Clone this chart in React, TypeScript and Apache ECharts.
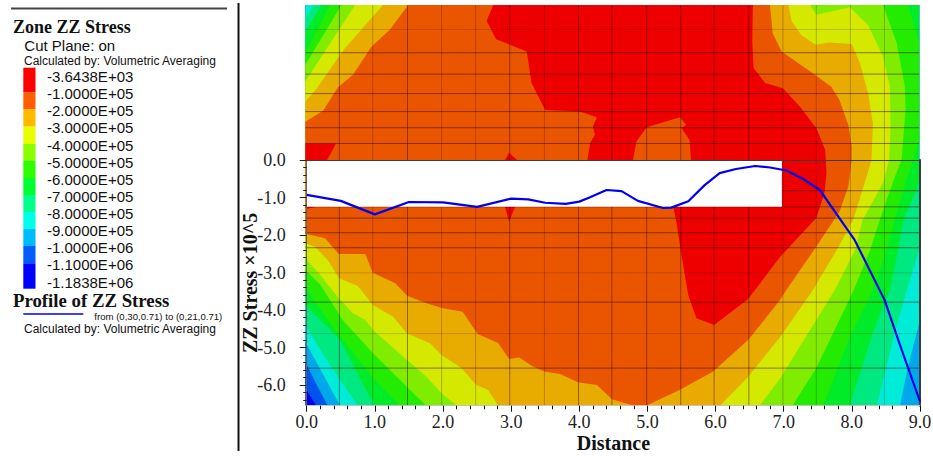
import React, { useEffect, useRef } from "react";
import * as echarts from "echarts";

type P = number[];

const lineDistance = [0, 0.5, 1.0, 1.5, 2.0, 2.5, 3.0, 3.25, 3.5, 3.8, 4.0, 4.15, 4.4, 4.62, 4.86, 5.23, 5.35, 5.6, 5.84, 6.06, 6.3, 6.58, 6.8, 7.04, 7.28, 7.53, 7.94, 8.04, 8.26, 8.48, 8.7, 9.0];
const lineStress = [-0.93, -1.09, -1.45, -1.12, -1.13, -1.25, -1.03, -1.05, -1.14, -1.17, -1.11, -1.0, -0.8, -0.83, -1.09, -1.28, -1.27, -1.1, -0.67, -0.35, -0.24, -0.16, -0.2, -0.28, -0.5, -0.8, -1.87, -2.13, -2.93, -3.73, -4.9, -6.44];

const legendLabels = ["-3.6438E+03", "-1.0000E+05", "-2.0000E+05", "-3.0000E+05", "-4.0000E+05", "-5.0000E+05", "-6.0000E+05", "-7.0000E+05", "-8.0000E+05", "-9.0000E+05", "-1.0000E+06", "-1.1000E+06", "-1.1838E+06"];
const legendColors = ["#FF0000", "#FF5D00", "#FFBA00", "#E8FF00", "#8BFF00", "#2EFF00", "#00FF2E", "#00FF8B", "#00FFE8", "#00BAFF", "#005DFF", "#0000FF"];
const xTicks = [0, 1, 2, 3, 4, 5, 6, 7, 8, 9];
const yTicks = [0, -1, -2, -3, -4, -5, -6];

// Contour boundaries, in (distance, stress) units
const cornerTL: P = [-0.02, 4.13];
const cornerTR: P = [8.99, 4.13];
const cornerBR: P = [8.99, -6.55];
const cornerBL: P = [-0.02, -6.55];

const tlSpring: P[] = [[-0.02, 3.78], [0.1, 4.13]];
const tlGreen2: P[] = [[-0.02, 3.42], [0.22, 4.13]];
const tlGreen: P[] = [[-0.02, 2.85], [0.34, 4.13]];
const tlLime: P[] = [[-0.02, 2.53], [0.51, 4.13]];
const tlYellow: P[] = [[-0.02, 2.09], [0.71, 4.13]];
const tlAmber: P[] = [[-0.02, 1.55], [0.15, 1.91], [0.54, 2.93], [1.12, 4.13]];
const tlOrange: P[] = [[-0.02, 1.02], [0.24, 1.31], [0.46, 1.94], [0.68, 2.27], [0.95, 3.02], [1.22, 3.47], [1.49, 4.13]];

const rCyan: P[] = [[8.99, -4.35], [8.82, -5.55], [8.71, -6.55]];
const rSpring: P[] = [[8.99, -2.4], [8.81, -3.47], [8.63, -4.61], [8.37, -6.55]];
const rGreen2: P[] = [[8.99, -0.61], [8.76, -1.6], [8.68, -2.4], [8.56, -3.47], [8.31, -4.61], [7.97, -6.55]];
const rGreen: P[] = [[8.83, 4.13], [8.99, 3.11], [8.99, 0.53], [8.9, 0], [8.79, -0.61], [8.63, -1.6], [8.51, -2.4], [8.31, -3.47], [8.0, -4.61], [7.58, -6.55]];
const rLime: P[] = [[8.46, 4.13], [8.66, 3.11], [8.78, 1.95], [8.79, 1.33], [8.73, 0], [8.6, -0.61], [8.41, -1.6], [8.27, -2.4], [8.03, -3.47], [7.48, -5.55], [7.13, -6.55]];
const rYellow: P[] = [[7.39, 4.13], [7.48, 3.87], [7.97, 4.07], [8.24, 3.6], [8.46, 2.75], [8.56, 1.95], [8.57, 0.89], [8.55, 0], [8.46, -0.61], [8.16, -1.6], [8.05, -2.4], [7.75, -3.47], [6.95, -5.82], [6.65, -6.55]];
const rAmber: P[] = [[7.07, 4.13], [7.12, 3.69], [7.26, 3.33], [7.47, 3.07], [7.68, 3.13], [8.0, 3.09], [8.12, 2.58], [8.24, 1.78], [8.31, 0.98], [8.29, 0], [8.19, -0.61], [8.02, -1.6], [7.78, -2.4], [7.43, -3.47], [6.95, -4.72], [6.48, -5.78], [6.07, -6.55]];
const rOrange: P[] = [[6.8, 4.13], [6.84, 3.38], [6.97, 2.89], [7.46, 2.27], [7.7, 1.95], [7.82, 1.6], [7.95, 0.93], [8.0, 0.35], [8.0, 0], [7.95, -0.71], [7.82, -1.38], [7.48, -2.31], [7.04, -3.47], [6.95, -3.73], [6.48, -4.8], [5.96, -5.65], [5.48, -6.13], [4.99, -6.55]];

const blBlue: P[] = [[0.14, -6.55], [-0.02, -6.09]];
const blSky: P[] = [[0.31, -6.55], [0.14, -5.97], [-0.02, -5.38]];
const blCyan: P[] = [[0.49, -6.55], [0.22, -5.65], [-0.02, -4.85]];
const blSpring: P[] = [[0.75, -6.55], [0.49, -5.87], [0.22, -5.12], [-0.02, -4.4]];
const blGreen2: P[] = [[1.0, -6.55], [0.73, -5.65], [0.49, -4.8], [0.2, -4.27], [-0.02, -3.87]];
const blGreen: P[] = [[1.37, -6.55], [0.97, -5.81], [0.31, -4.27], [-0.02, -3.41]];
const blLime: P[] = [[1.75, -6.55], [1.47, -6.05], [0.97, -5.15], [0.53, -4.27], [0.2, -3.33], [-0.02, -2.93]];
const blYellow: P[] = [[2.2, -6.55], [1.98, -6.22], [1.76, -5.78], [1.47, -5.33], [0.97, -4.53], [0.86, -4.27], [0.68, -4.09], [0.47, -3.69], [0.2, -3.07], [-0.02, -2.62]];
const blAmber: P[] = [[2.81, -6.55], [2.66, -6.13], [2.49, -6.0], [2.27, -5.55], [1.98, -5.2], [1.81, -4.89], [1.47, -4.62], [1.27, -4.18], [0.97, -3.87], [0.75, -3.36], [0.47, -3.15], [0.31, -2.67], [0.12, -2.31], [-0.02, -2.22]];
const blOrange: P[] = [[4.79, -6.55], [4.48, -6.38], [4.26, -6.0], [3.98, -5.93], [3.72, -5.71], [3.5, -5.65], [3.32, -5.51], [3.12, -5.27], [2.97, -5.31], [2.81, -4.88], [2.51, -4.64], [2.29, -4.05], [1.98, -3.95], [1.76, -3.82], [1.48, -3.63], [1.3, -3.29], [0.97, -3.01], [0.86, -2.51], [0.47, -2.51], [0.27, -2.09], [-0.02, -1.97]];

const redMain: P[] = [[2.74, 4.13], [2.64, 3.71], [2.78, 3.22], [3.23, 2.89], [3.3, 2.05], [3.5, 1.33], [4.01, 1.29], [4.26, 1.14], [4.2, 0.89], [4.23, 0.67], [4.16, 0.45], [4.12, 0], [4.16, -1.07], [4.74, -1.07], [4.79, 0], [4.84, 0.49], [4.99, 0.87], [5.48, 1.14], [5.57, 0.93], [5.5, 0.85], [5.62, 0.53], [5.64, 0], [5.38, -1.25], [5.42, -1.6], [5.53, -2.85], [5.6, -3.6], [5.72, -4.22], [5.98, -4.4], [6.48, -3.71], [6.95, -2.58], [7.48, -1.55], [7.6, -0.88], [7.63, -0.35], [7.61, 0.27], [7.48, 0.85], [7.24, 1.42], [6.99, 1.91], [6.73, 2.05], [6.56, 2.45], [6.54, 3.15], [6.55, 4.13]];
const redCorner: P[] = [[-0.02, 0.43], [0.43, 0.43], [0.3, 0], [-0.02, 0]];
const redSpike: P[] = [[2.91, 0], [2.97, 0.19], [3.09, 0], [3.06, -1.25], [2.97, -1.65], [2.91, -1.25]];
const redSliver: P[] = [[-0.02, -1.25], [0.15, -1.25], [0, -1.31]];

const contourPolygons: { color: string; points: P[] }[] = [
  { color: "#0000EC", points: [cornerTL, cornerTR, cornerBR, cornerBL] },
  { color: "#0054EC", points: [cornerTL, cornerTR, cornerBR, ...blBlue] },
  { color: "#00A8EA", points: [cornerTL, cornerTR, cornerBR, ...blSky] },
  { color: "#00ECD8", points: [cornerTL, cornerTR, ...rCyan, ...blCyan] },
  { color: "#00E880", points: [...tlSpring, cornerTR, ...rSpring, ...blSpring] },
  { color: "#00EC28", points: [...tlGreen2, cornerTR, ...rGreen2, ...blGreen2] },
  { color: "#24EC00", points: [...tlGreen, ...rGreen, ...blGreen] },
  { color: "#80EC00", points: [...tlLime, ...rLime, ...blLime] },
  { color: "#D4E800", points: [...tlYellow, ...rYellow, ...blYellow] },
  { color: "#E8AB00", points: [...tlAmber, ...rAmber, ...blAmber] },
  { color: "#EA5600", points: [...tlOrange, ...rOrange, ...blOrange] },
  { color: "#EE0000", points: redMain },
  { color: "#EE0000", points: redCorner },
  { color: "#EE0000", points: redSpike },
  { color: "#EE0000", points: redSliver },
];

const meshXStrong = [0.48, 1.48, 2.98, 3.99, 4.48, 4.99, 5.49, 5.98, 6.49];
const meshXWeak = [0.97, 1.98, 2.48, 3.49, 6.99, 7.48, 7.98, 8.48];
const meshYStrong = [2.86, 2.29, 1.77, 1.29, 0.86, 0.44, -0.82, -1.25, -1.55, -1.94, -2.34, -3.79, -5.55];
const meshYWeak = [3.48, -3.01, -4.63];

const blankRect = [0, 0, 6.975, -1.25];

const SERIF = "'Liberation Serif', 'Times New Roman', serif";
const SANS = "'Liberation Sans', Arial, sans-serif";

function meshSeries(values: number[], vertical: boolean, alpha: number) {
  return {
    type: "custom",
    xAxisIndex: 0,
    yAxisIndex: 0,
    silent: true,
    z: 3,
    data: values,
    renderItem: (params: any, api: any) => {
      const v = values[params.dataIndex];
      const a = vertical ? api.coord([v, 4.13]) : api.coord([-0.02, v]);
      const b = vertical ? api.coord([v, -6.55]) : api.coord([8.99, v]);
      return {
        type: "line",
        shape: { x1: a[0], y1: a[1], x2: b[0], y2: b[1] },
        style: { stroke: `rgba(50,0,0,${alpha})`, lineWidth: 1 },
      };
    },
  };
}

function txt(text: string, x: number, y: number, fontSize: number, fontFamily: string, fontWeight: string = "normal") {
  return {
    type: "text",
    x,
    y,
    silent: true,
    style: { text, fontSize, fontFamily, fontWeight, fill: "#111", verticalAlign: "middle", align: "left" },
  };
}

export default function App() {
  const ref = useRef<HTMLDivElement>(null);
  useEffect(() => {
    if (!ref.current) return;
    const chart = echarts.init(ref.current, undefined, { renderer: "svg" });

    const bandEdges = [67.7, 92.3, 109.3, 126.7, 144, 160.7, 178, 195, 212, 229, 246, 263.3, 288.7];
    const legendGraphics: any[] = legendColors.map((c, i) => ({
      type: "rect",
      silent: true,
      shape: { x: 23.3, y: bandEdges[i], width: 12.2, height: bandEdges[i + 1] - bandEdges[i] },
      style: { fill: c },
    }));
    const labelGraphics = legendLabels.map((l, i) => txt(l, 47, 76.5 + i * 17.13, 15, SANS));

    const yMinor: number[] = [];
    for (let v = 0; v >= -32; v--) {
      if (v % 5 !== 0) yMinor.push(v / 5);
    }

    const hiddenAxis = { show: false, type: "value" };

    chart.setOption({
      animation: false,
      backgroundColor: "#fff",
      textStyle: { fontFamily: SERIF },
      grid: [
        { left: 305.3, width: 613.9, top: 5.1, height: 400.5, outerBoundsMode: "none" },
        { left: 306.7, width: 613.3, top: 160, height: 245.7, outerBoundsMode: "none" },
      ],
      xAxis: [
        { ...hiddenAxis, gridIndex: 0, min: -0.02, max: 8.99 },
        {
          type: "value",
          gridIndex: 1,
          min: 0,
          max: 9,
          interval: 1,
          z: 5,
          position: "bottom",
          name: "Distance",
          nameLocation: "middle",
          nameGap: 27,
          nameMoveOverlap: false,
          nameTextStyle: { fontFamily: SERIF, fontWeight: "bold", fontSize: 20, color: "#111" },
          axisLine: { show: true, onZero: false, lineStyle: { color: "#c4c4c4", width: 1 } },
          axisTick: { show: true, length: 6, inside: false, lineStyle: { color: "#111", width: 1 } },
          minorTick: { show: true, splitNumber: 5, length: 3.5, lineStyle: { color: "#111", width: 1 } },
          splitLine: { show: false },
          minorSplitLine: { show: false },
          axisLabel: {
            show: true,
            margin: 7,
            fontFamily: SERIF,
            fontSize: 18,
            color: "#222",
            showMinLabel: true,
            showMaxLabel: true,
            formatter: (v: number) => (xTicks.includes(v) ? v.toFixed(1) : ""),
          },
        },
        {
          type: "value",
          gridIndex: 1,
          position: "top",
          min: 0,
          max: 9,
          z: 5,
          axisLine: { show: true, onZero: false, lineStyle: { color: "#3c3c3c", width: 1 } },
          axisTick: { show: false },
          axisLabel: { show: false },
          splitLine: { show: false },
        },
      ],
      yAxis: [
        { ...hiddenAxis, gridIndex: 0, min: -6.55, max: 4.13 },
        {
          type: "value",
          gridIndex: 1,
          min: -6.552,
          max: 0,
          z: 5,
          name: "ZZ Stress ×10^5",
          nameLocation: "middle",
          nameRotate: 90,
          nameGap: 47,
          nameMoveOverlap: false,
          nameTextStyle: { fontFamily: SERIF, fontWeight: "bold", fontSize: 20, color: "#111" },
          axisLine: { show: true, onZero: false, lineStyle: { color: "#666", width: 1 } },
          axisTick: { show: true, length: 7, customValues: yTicks, lineStyle: { color: "#222", width: 1 } },
          axisLabel: {
            show: true,
            margin: 21,
            customValues: yTicks,
            fontFamily: SERIF,
            fontSize: 18,
            color: "#222",
            formatter: (v: number) => (v === 0 ? "0.0" : v.toFixed(1)),
          },
          splitLine: { show: false },
        },
        {
          type: "value",
          gridIndex: 1,
          min: -6.552,
          max: 0,
          z: 5,
          axisLine: { show: false, onZero: false },
          axisTick: { show: true, length: 3.5, customValues: yMinor, lineStyle: { color: "#222", width: 1 } },
          axisLabel: { show: false },
          splitLine: { show: false },
          position: "left",
        },
        {
          type: "value",
          gridIndex: 1,
          min: -6.552,
          max: 0,
          z: 5,
          position: "right",
          axisLine: { show: true, onZero: false, lineStyle: { color: "#3c3c3c", width: 2 } },
          axisTick: { show: false },
          axisLabel: { show: false },
          splitLine: { show: false },
        },
      ],
      series: [
        {
          type: "custom",
          xAxisIndex: 0,
          yAxisIndex: 0,
          silent: true,
          z: 2,
          data: contourPolygons.map((_, i) => i),
          renderItem: (params: any, api: any) => {
            const poly = contourPolygons[params.dataIndex];
            return {
              type: "polygon",
              shape: { points: poly.points.map((p) => api.coord(p)) },
              style: { fill: poly.color },
            };
          },
        },
        meshSeries(meshXStrong, true, 0.45),
        meshSeries(meshXWeak, true, 0.25),
        meshSeries(meshYStrong, false, 0.5),
        meshSeries(meshYWeak, false, 0.18),
        {
          type: "custom",
          xAxisIndex: 0,
          yAxisIndex: 0,
          silent: true,
          z: 4,
          data: [0],
          renderItem: (_params: any, api: any) => {
            const a = api.coord([blankRect[0], blankRect[1]]);
            const b = api.coord([blankRect[2], blankRect[3]]);
            return {
              type: "rect",
              shape: { x: a[0], y: a[1], width: b[0] - a[0], height: b[1] - a[1] },
              style: { fill: "#fff" },
            };
          },
        },
        {
          type: "line",
          xAxisIndex: 1,
          yAxisIndex: 1,
          z: 6,
          showSymbol: false,
          silent: true,
          clip: false,
          lineStyle: { color: "#0000F0", width: 2.2 },
          data: lineDistance.map((d, i) => [d, lineStress[i]]),
        },
      ],
      graphic: [
        { type: "line", silent: true, shape: { x1: 11, y1: 8.5, x2: 227, y2: 8.5 }, style: { stroke: "#444", lineWidth: 2 } },
        { type: "line", silent: true, shape: { x1: 238.5, y1: 3, x2: 238.5, y2: 451 }, style: { stroke: "#111", lineWidth: 2 } },
        txt("Zone ZZ Stress", 13, 27, 18, SERIF, "bold"),
        txt("Cut Plane: on", 24.3, 45, 15, SANS),
        txt("Calculated by: Volumetric Averaging", 24, 61, 12, SANS),
        ...legendGraphics,
        ...labelGraphics,
        txt("Profile of ZZ Stress", 13, 300.7, 18.8, SERIF, "bold"),
        { type: "line", silent: true, shape: { x1: 23.3, y1: 314, x2: 83.3, y2: 314 }, style: { stroke: "#0000F0", lineWidth: 1.5 } },
        txt("from (0,30,0.71) to (0,21,0.71)", 94.3, 316, 9.6, SANS),
        txt("Calculated by: Volumetric Averaging", 24, 329, 12, SANS),
      ],
    });
    return () => chart.dispose();
  }, []);
  return <div ref={ref} style={{ position: "absolute", left: 0, top: 0, width: 933, height: 456 }} />;
}
